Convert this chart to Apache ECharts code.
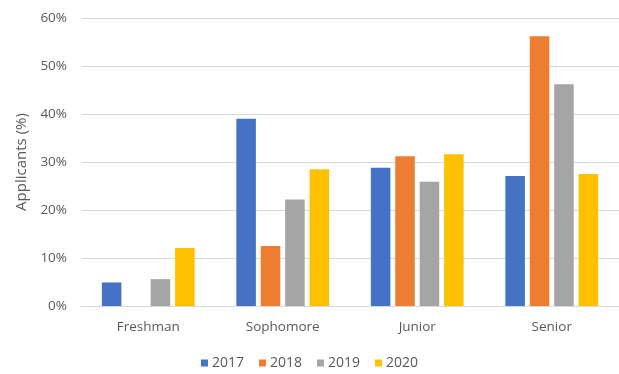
<!DOCTYPE html>
<html><head><meta charset="utf-8">
<script src="https://cdn.jsdelivr.net/npm/echarts@6/dist/echarts.min.js"></script>
<style>html,body{margin:0;padding:0;background:#fff}#c{width:619px;height:374px}</style>
</head><body><div id="c"></div>
<script>
const categories = ["Freshman", "Sophomore", "Junior", "Senior"];
const years = ["2017", "2018", "2019", "2020"];
const v2017 = [4.9, 39.0, 28.8, 27.1];
const v2018 = [0, 12.5, 31.2, 56.2];
const v2019 = [5.6, 22.2, 25.9, 46.2];
const v2020 = [12.1, 28.5, 31.6, 27.5];
const yTicks = [0, 10, 20, 30, 40, 50, 60];
const colors = ["#4472C4", "#ED7D31", "#A5A5A5", "#FFC000"];
const seriesValues = [v2017, v2018, v2019, v2020];

const font = "'Open Sans', 'Liberation Sans', sans-serif";
const chart = echarts.init(document.getElementById('c'), null, {renderer: 'canvas'});
chart.setOption({
  animation: false,
  textStyle: {fontFamily: font},
  grid: {left: 81, top: 18, width: 540, height: 288, containLabel: false},
  legend: {
    data: years, top: 351, left: 'center',
    itemWidth: 7, itemHeight: 7, itemGap: 15, icon: 'rect',
    textStyle: {color: '#595959', fontSize: 14, fontFamily: font, padding: [0,0,0,-1]}
  },
  xAxis: {
    type: 'category', data: categories,
    axisLine: {lineStyle: {color: '#d9d9d9', width: 1}},
    axisTick: {show: false},
    axisLabel: {color: '#595959', fontSize: 13.5, margin: 14, fontFamily: font}
  },
  yAxis: {
    type: 'value', min: yTicks[0], max: yTicks[yTicks.length-1], interval: 10,
    name: 'Applicants (%)', nameLocation: 'middle', nameGap: 51, nameRotate: 90,
    nameTextStyle: {color: '#595959', fontSize: 15, fontFamily: font},
    axisLine: {show: false}, axisTick: {show: false},
    axisLabel: {color: '#595959', fontSize: 13.5, margin: 14, formatter: '{value}%', fontFamily: font},
    splitLine: {lineStyle: {color: '#d9d9d9', width: 1}}
  },
  series: years.map((y, i) => ({
    name: y, type: 'bar', data: seriesValues[i],
    itemStyle: {color: colors[i]},
    barGap: '25%', barCategoryGap: '31%'
  }))
});
</script></body></html>
